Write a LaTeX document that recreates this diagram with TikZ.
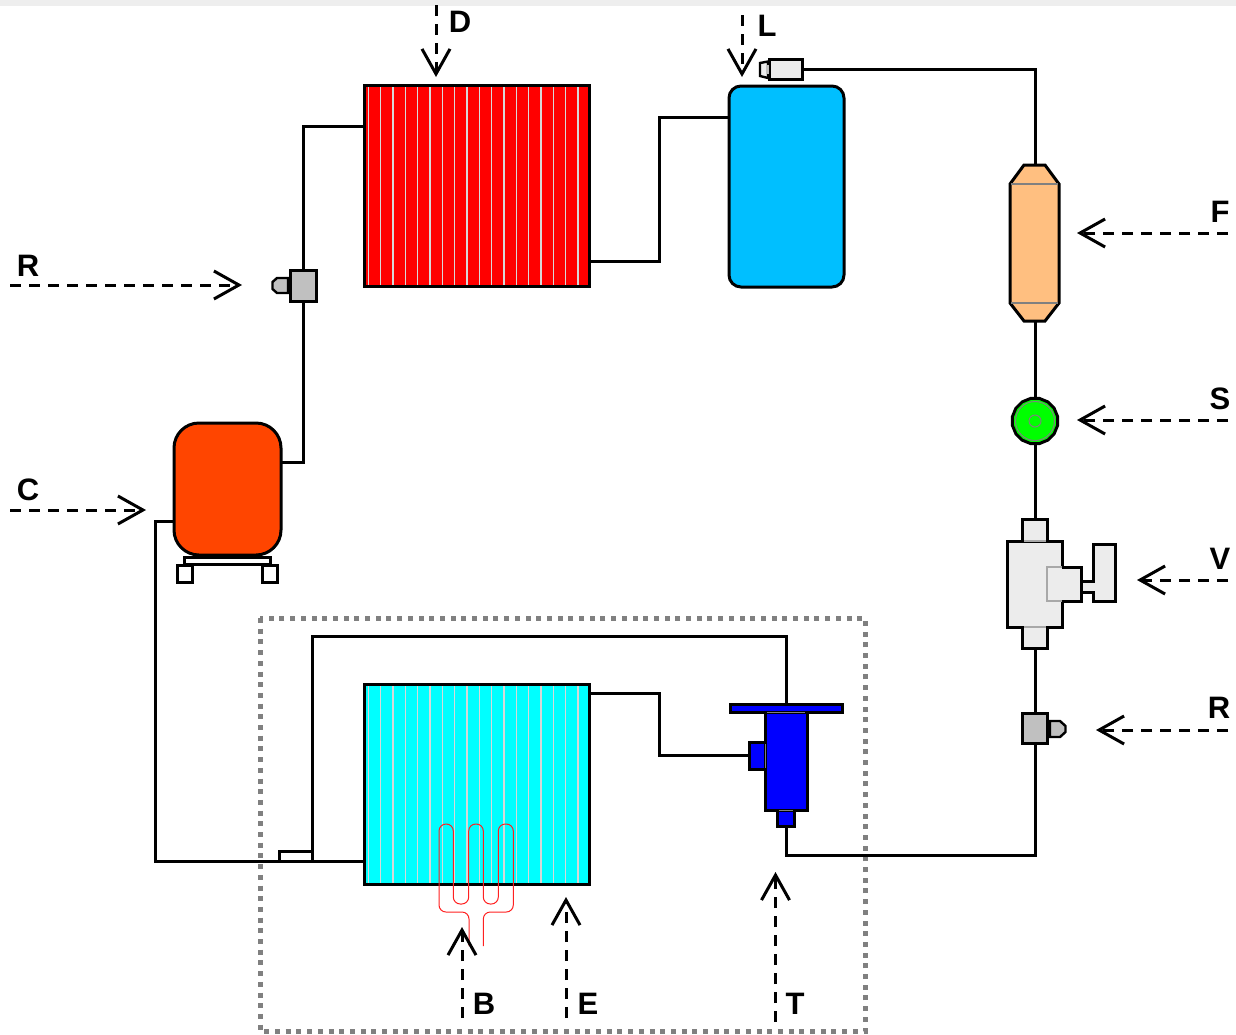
\documentclass[tikz,border=0pt]{standalone}
\usepackage{fontspec}
\setmainfont{Liberation Sans}
\usetikzlibrary{arrows.meta,shapes.geometric}
\definecolor{strip}{HTML}{EEEEEE}
\definecolor{partgrey}{HTML}{ECECEC}
\definecolor{swgrey}{HTML}{C0C0C0}
\definecolor{edgegrey}{HTML}{A8A8A8}
\definecolor{finc}{HTML}{D8D8D8}
\definecolor{compc}{HTML}{FF4500}
\definecolor{recc}{HTML}{00BFFF}
\definecolor{filc}{HTML}{FFBF80}
\definecolor{heat}{HTML}{FF2020}
\definecolor{evapc}{HTML}{00FFFF}
\definecolor{sightc}{HTML}{00FF00}
\definecolor{tevc}{HTML}{0000FF}
\definecolor{condc}{HTML}{FF0000}
\tikzset{
  pipe/.style={line width=3pt,draw=black},
  part/.style={draw=black,line width=3pt,inner sep=0pt,outer sep=0pt,rectangle,minimum width=#1},
  part/.default=10pt,
  seam/.style={line width=1.2pt,draw=gray},
  fin/.style={line width=1.5pt,draw=finc},
  callout/.style={line width=3pt,dash pattern=on 11pt off 8pt,
    -{Straight Barb[length=25pt,width=28pt,line width=3pt]}},
  tag/.style={font=\bfseries\fontsize{31}{31}\selectfont,inner sep=0pt},
  heater/.style={draw=heat,line width=1pt,rounded corners=7pt},
  zone/.style={draw=gray,line width=5pt,dash pattern=on 5pt off 5.7pt}
}
\begin{document}
\begin{tikzpicture}[x=1pt,y=-1pt]
\useasboundingbox (0,0) rectangle (1236,1034);
\fill[strip] (0,0) rectangle (1236,6);
% zone
\draw[zone] (260,618) rectangle (865,1031);
% connector end points on drawn shapes
\coordinate (filtertop) at (1035,165);
\coordinate (filterbot) at (1035,321);
\coordinate (tevbend) at (786,636);
\coordinate (trapbend) at (312,636);
\coordinate (lowbend) at (786,855);
% condenser
\node[part=225pt,minimum height=201pt,fill=condc] (cond) at (476.5,185.5) {};
\foreach \i in {0,...,17} \draw[fin] ({368.3+12.33*\i},86.5) -- ({368.3+12.33*\i},284.5);
\draw[line width=3pt] (cond.north west) rectangle (cond.south east);
% receiver
\node[part=115pt,minimum height=201pt,fill=recc,rounded corners=12pt] (rec) at (786.5,186.5) {};
% compressor
\node[part=107pt,minimum height=132pt,fill=compc,rounded corners=25pt] (comp) at (227.5,489) {};
\node[part=86pt,minimum height=7pt,fill=white] (base) at (227,560.5) {};
\node[part=15pt,minimum height=17pt,fill=white] (footl) at (184.5,573.5) {};
\node[part=15pt,minimum height=17pt,fill=white] (footr) at (269.5,573.5) {};
% evaporator
\node[part=225pt,minimum height=200pt,fill=evapc] (evap) at (476.5,784) {};
\foreach \i in {0,...,17} \draw[fin] ({368.3+12.33*\i},685.5) -- ({368.3+12.33*\i},882.5);
\draw[line width=3pt] (evap.north west) rectangle (evap.south east);
% left pressure switch
\node[part=26pt,minimum height=31pt,fill=swgrey] (hpsw) at (303,285.5) {};
\draw[pipe,fill=swgrey,line width=2.4pt] (288,278) -- (277,278) -- (272.5,282) -- (272.5,289) -- (277,293) -- (288,293) -- cycle;
% right pressure switch
\node[part=25pt,minimum height=30pt,fill=swgrey] (lpsw) at (1035,728) {};
\draw[pipe,fill=swgrey,line width=2.4pt] (1050,721) -- (1060,721) -- (1065.5,726) -- (1065.5,732) -- (1060,737) -- (1050,737) -- cycle;
% liquid switch
\node[part=33pt,minimum height=20pt,fill=partgrey,line width=2.4pt] (lsw) at (786,69.5) {};
\draw[pipe,fill=partgrey,line width=2.4pt] (768,61.5) -- (760,63) -- (760,76) -- (768,78) -- cycle;
\fill[swgrey] (765.5,65) rectangle (769,74);
% filter
\draw[pipe,fill=filc] (1024,165) -- (1045,165) -- (1059,184) -- (1059,303) -- (1045,321) -- (1024,321) -- (1010,303) -- (1010,184) -- cycle;
\draw[seam] (1011,184) -- (1058,184);
\draw[seam] (1011,303) -- (1058,303);
% sight glass
\node[draw=black,line width=3pt,fill=sightc,regular polygon,regular polygon sides=16,minimum size=46pt,inner sep=0pt,outer sep=0pt] (sight) at (1035,421) {};
\draw[draw=gray,line width=1pt] (sight.center) circle (19.5pt);
\draw[draw=gray,line width=1pt] (sight.center) circle (6pt);
% manual valve
\node[part=25pt,minimum height=22pt,fill=partgrey] (vtop) at (1035,530) {};
\node[part=25pt,minimum height=21pt,fill=partgrey] (vbot) at (1035,637.5) {};
\node[part=55pt,minimum height=86pt,fill=partgrey] (vbody) at (1034.5,584) {};
\fill[partgrey] (1024,538) rectangle (1046,541);
\fill[partgrey] (1024,627) rectangle (1046,630);
\draw[seam,draw=edgegrey] (1024,541) -- (1046,541);
\draw[seam,draw=edgegrey] (1024,627) -- (1046,627);
\node[part=13pt,minimum height=11pt,fill=partgrey] (vneck) at (1087.5,587) {};
\node[part=22pt,minimum height=57pt,fill=partgrey] (vhandle) at (1104,572.5) {};
\fill[partgrey] (1081,583) rectangle (1094.5,591);
\node[rectangle,minimum width=34pt,minimum height=34pt,inner sep=0pt,fill=partgrey,draw=edgegrey,line width=1.2pt] (vside) at (1064,584) {};
\draw[pipe] (1062,567) -- (1081,567) -- (1081,601) -- (1062,601);
% expansion valve
\node[part=42pt,minimum height=98pt,fill=tevc] (tbody) at (786,761) {};
\node[part=16pt,minimum height=27pt,fill=tevc] (tside) at (757,755.5) {};
\node[part=17pt,minimum height=16pt,fill=tevc] (ttail) at (786,818) {};
\node[part=112pt,minimum height=8pt,fill=tevc] (tflange) at (786,708) {};
\draw[seam] (767,712.5) -- (805,712.5);
\draw[seam] (765.5,744) -- (765.5,768);
\draw[seam] (779,810.5) -- (793,810.5);
% small box at the junction
\node[part=33pt,minimum height=10pt,fill=white] (trap) at (295.5,856) {};
% pipes
\draw[pipe] ([yshift=27pt]comp.east) -| (hpsw.south);
\draw[pipe] (hpsw.north) |- ([yshift=59.5pt]cond.west);
\draw[pipe] ([yshift=-75.5pt]cond.east) -- ++(70,0) |- ([yshift=69.5pt]rec.west);
\draw[pipe] (lsw.east) -| (filtertop);
\draw[pipe] (filterbot) -- (sight.north);
\draw[pipe] (sight.south) -- (vtop.north);
\draw[pipe] (vbot.south) -- (lpsw.north);
\draw[pipe] (lpsw.south) |- (lowbend) -- (ttail.south);
\draw[pipe] (tflange.north) -- (tevbend) -- (trapbend) -- (trap.north east);
\draw[pipe] (trap.south west) -- (evap.west |- trap.south);
\draw[pipe] ([yshift=-32pt]comp.west) -- ++(-19,0) |- (trap.south west);
\draw[pipe] ([yshift=91pt]evap.east) -- ++(70,0) |- (tside.west);
% heater
\draw[heater] (469,946) -- (469,912) -- (439,912) -- (439,824) -- (453.3,824) -- (453.3,904) -- (468.7,904) -- (468.7,824) -- (483.3,824) -- (483.3,904) -- (498.3,904) -- (498.3,824) -- (513.3,824) -- (513.3,912) -- (483.3,912) -- (483.3,946);
% call-outs
\coordinate (aD0) at (436,5);      \coordinate (aD1) at (436,77);
\coordinate (aL0) at (742,15);     \coordinate (aL1) at (742,77);
\coordinate (aR0) at (10,285);     \coordinate (aR1) at (242,285);
\coordinate (aC0) at (10,510);     \coordinate (aC1) at (146,510);
\coordinate (aF0) at (1228,233);   \coordinate (aF1) at (1077,233);
\coordinate (aS0) at (1228,420);   \coordinate (aS1) at (1077,420);
\coordinate (aV0) at (1228,580);   \coordinate (aV1) at (1137,580);
\coordinate (aQ0) at (1228,730);   \coordinate (aQ1) at (1096,730);
\coordinate (aB0) at (462,1018);   \coordinate (aB1) at (462,927);
\coordinate (aE0) at (566,1018);   \coordinate (aE1) at (566,897);
\coordinate (aT0) at (775.5,1022); \coordinate (aT1) at (775.5,872);
\foreach \a in {D,L,R,C,F,S,V,Q,B,E,T} \draw[callout] (a\a0) -- (a\a1);
\node[tag] (tD) at (460,22) {D};
\node[tag] (tL) at (767,26) {L};
\node[tag] (tR) at (28,266) {R};
\node[tag] (tC) at (28,490) {C};
\node[tag] (tF) at (1220,212) {F};
\node[tag] (tS) at (1220,399) {S};
\node[tag] (tV) at (1220,559) {V};
\node[tag] (tQ) at (1219,708) {R};
\node[tag] (tB) at (484,1004) {B};
\node[tag] (tE) at (588,1004) {E};
\node[tag] (tT) at (795,1004) {T};
\end{tikzpicture}
\end{document}
